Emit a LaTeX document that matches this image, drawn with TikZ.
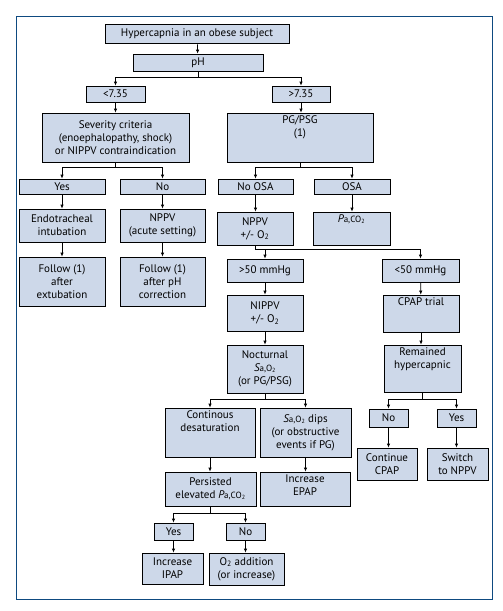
\documentclass[tikz,border=0pt]{standalone}
\usepackage{fontspec}
\setmainfont{PT Sans}
\usetikzlibrary{arrows.meta}
\definecolor{boxfill}{HTML}{CDD8E9}
\definecolor{framecol}{HTML}{0E4A80}
\newcommand{\boxfont}{\fontsize{11}{13}\selectfont}
\newcommand{\PaCO}{{\itshape P}{\small a,CO\textsubscript{2}}}
\newcommand{\SaO}{{\itshape S}{\small a,O\textsubscript{2}}}
\tikzset{wh/.style 2 args={minimum width=#1pt,minimum height=#2pt}}
\begin{document}
\begin{tikzpicture}[x=1pt,y=-1pt,
    topbox/.style={box,label={[align=center,anchor=north,inner sep=2.5pt,font=\boxfont]north:{#1}}}]
  \tikzstyle{box}=[draw=black,fill=boxfill,line width=0.7pt,align=center,inner sep=1pt,font=\boxfont]
  \tikzstyle{edge}=[draw,line width=0.7pt,-{Latex[length=4pt,width=3.5pt]}]
  \tikzstyle{stem}=[draw,line width=0.7pt]
  \useasboundingbox (0,0) rectangle (503,611);
  \draw[framecol,line width=1pt] (16,16) rectangle (492,599);
  % top
  \node [box,wh={184}{19}] (hyp) at (197,33.5) {Hypercapnia in an obese subject};
  \node [box,wh={130}{17}] (ph) at (198,62.5) {pH};
  \node [box,wh={59}{16}] (lt) at (115.5,94) {<7.35};
  \node [box,wh={58}{16}] (gt) at (301,94) {>7.35};
  \node [box,wh={147}{49}] (sev) at (115.5,137.5) {Severity criteria\\(enoephalopathy, shock)\\or NIPPV contraindication};
  \node [topbox={PG/PSG\\(1)},wh={146}{49}] (pg) at (300,137.5) {};
  % acidosis side
  \node [box,wh={86}{15}] (yesa) at (62,186.5) {Yes};
  \node [box,wh={85}{15}] (noa) at (162.5,186.5) {No};
  \node [box,wh={86}{33}] (endo) at (62,225.5) {Endotracheal\\intubation};
  \node [box,wh={85}{33}] (nppva) at (162.5,225.5) {NPPV\\(acute setting)};
  \node [box,wh={86}{49}] (fola) at (62,281.5) {Follow (1)\\after\\extubation};
  \node [box,wh={85}{49}] (folb) at (162.5,281.5) {Follow (1)\\after pH\\correction};
  % PG/PSG side
  \node [box,wh={75}{15}] (noosa) at (255.5,186.5) {No OSA};
  \node [box,wh={76}{15}] (osa) at (352,186.5) {OSA};
  \node [box,wh={76}{33}] (nppvb) at (255,228.5) {NPPV\\+/- O\textsubscript{2}};
  \node [topbox={\PaCO},wh={77}{33}] (paco) at (351.5,228.5) {};
  \node [box,wh={76}{23}] (hi) at (265,270.5) {>50 mmHg};
  \node [box,wh={77}{23}] (lo) at (420.5,270.5) {<50 mmHg};
  \node [box,wh={76}{36}] (nippv) at (265,313) {NIPPV\\+/- O\textsubscript{2}};
  \node [topbox={CPAP trial},wh={76}{37}] (cpap) at (421,313.5) {};
  \node [box,wh={76}{48}] (noct) at (265,369) {Nocturnal\\\SaO\\(or PG/PSG)};
  \node [topbox={Remained\\hypercapnic},wh={77}{47}] (rem) at (422.5,368.5) {};
  \node [topbox={Continous\\desaturation},wh={90}{49}] (desat) at (210,432.5) {};
  \node [box,wh={91}{49}] (dips) at (305.5,432.5) {\SaO{} dips\\(or obstructive\\events if PG)};
  \node [box,wh={39}{18}] (nob) at (388.5,418) {No};
  \node [box,wh={39}{18}] (yesb) at (456.5,418) {Yes};
  \node [box,wh={60}{32}] (contcpap) at (387,464) {Continue\\CPAP};
  \node [box,wh={61}{32}] (switch) at (457.5,464) {Switch\\to NPPV};
  \node [box,wh={91}{34}] (pers) at (210.5,489) {Persisted\\elevated \PaCO};
  \node [topbox={Increase\\EPAP},wh={90}{34}] (epap) at (305,489) {};
  \node [box,wh={39}{17}] (yesc) at (173.5,531.5) {Yes};
  \node [box,wh={39}{17}] (noc) at (245.5,531.5) {No};
  \node [box,wh={61}{31}] (ipap) at (172.5,568.5) {Increase\\IPAP};
  \node [box,wh={75}{32}] (otwo) at (246.5,569) {O\textsubscript{2} addition\\(or increase)};
  % connectors
  \path[edge] (hyp) -- (ph);
  \path[stem] (ph.south) -- ++(0,6) coordinate (phb);
  \path[edge] (phb) -| (lt);
  \path[edge] (phb) -| (gt);
  \path[edge] (lt) -- (sev);
  \path[edge] (gt.south) -- (gt.south |- pg.north);
  \path[stem] (sev.south) -- ++(0,5) coordinate (sevb);
  \path[edge] (sevb) -| (yesa);
  \path[edge] (sevb) -| (noa);
  \path[stem] (pg.south) -- ++(0,5) coordinate (pgb);
  \path[edge] (pgb) -| (noosa);
  \path[edge] (pgb) -| (osa);
  \path[edge] (yesa) -- (endo);
  \path[edge] (endo) -- (fola);
  \path[edge] (noa) -- (nppva);
  \path[edge] (nppva) -- (folb);
  \path[edge] (noosa.south) -- (noosa.south |- nppvb.north);
  \path[edge] (osa.south) -- (osa.south |- paco.north);
  \path[stem] (nppvb.south) -- ++(0,4) coordinate (nppvbb);
  \path[edge] (nppvbb) -| (hi);
  \path[edge] (nppvbb) -| (lo);
  \path[edge] (hi) -- (nippv);
  \path[edge] (nippv) -- (noct);
  \path[edge] (lo) -- (cpap);
  \path[edge] (cpap.south) -- (cpap.south |- rem.north);
  \path[stem] (noct.south) -- ++(0,6) coordinate (noctb);
  \path[edge] (noctb) -| (desat);
  \path[edge] (noctb) -| (dips);
  \path[stem] (rem.south) -- ++(0,7) coordinate (remb);
  \path[edge] (remb) -| (nob);
  \path[edge] (remb) -| (yesb);
  \path[edge] (nob.south) -- (nob.south |- contcpap.north);
  \path[edge] (yesb.south) -- (yesb.south |- switch.north);
  \path[edge] (desat.south) -- (desat.south |- pers.north);
  \path[edge] (dips.south) -- (dips.south |- epap.north);
  \path[stem] (pers.south) -- ++(0,7) coordinate (persb);
  \path[edge] (persb) -| (yesc);
  \path[edge] (persb) -| (noc);
  \path[edge] (yesc.south) -- (yesc.south |- ipap.north);
  \path[edge] (noc.south) -- (noc.south |- otwo.north);
\end{tikzpicture}
\end{document}
